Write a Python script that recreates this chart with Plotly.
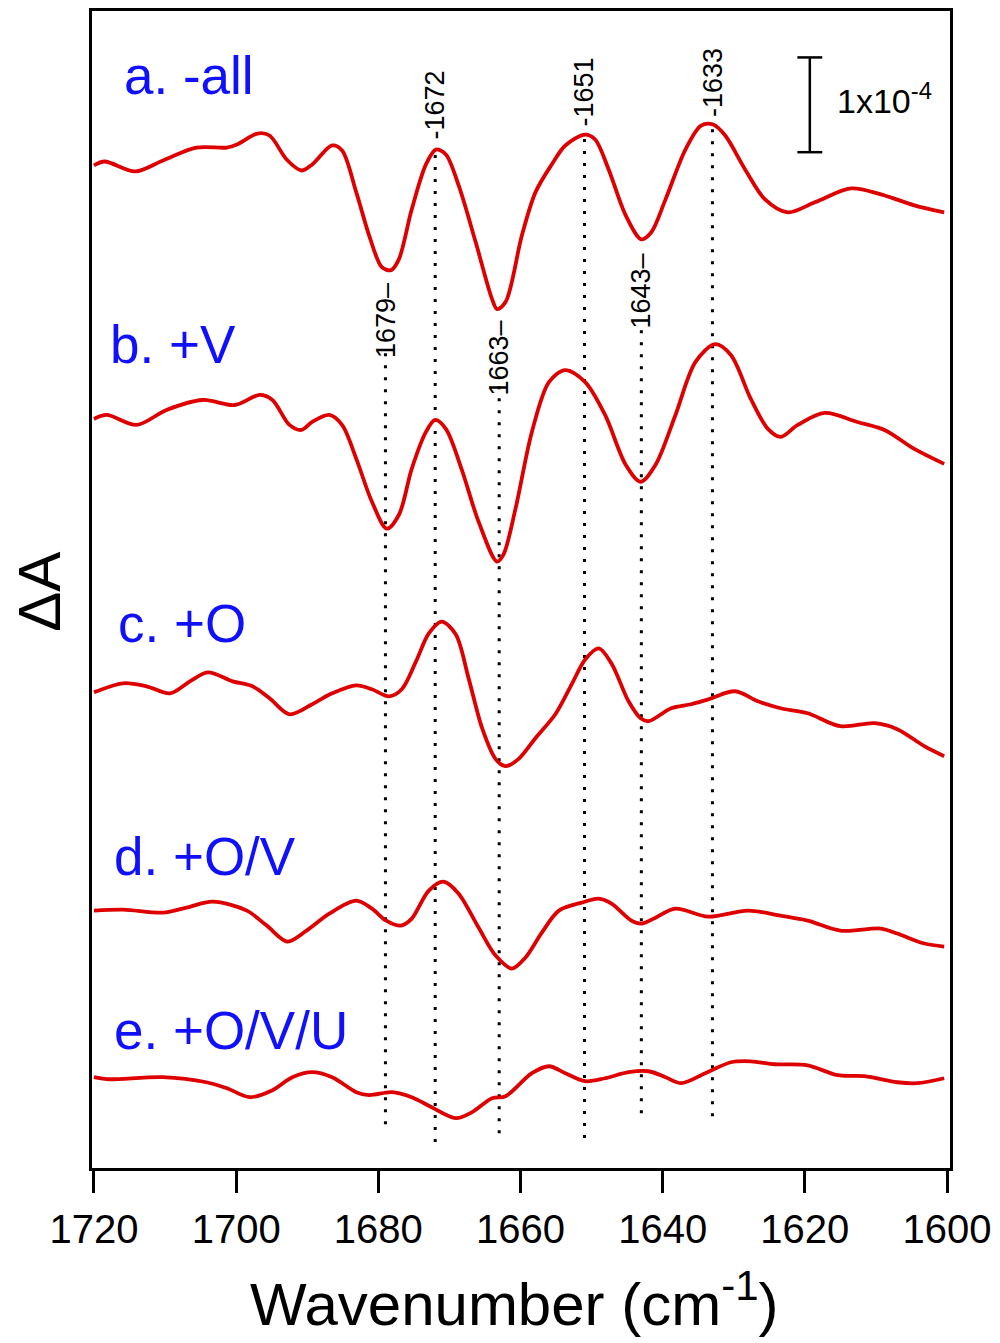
import plotly.graph_objects as go

# Wavenumber (cm-1) and ΔA (units of 1e-5) for each spectrum
wn_a = [1720.0, 1718.5, 1714.2, 1710.3, 1705.6, 1701.3, 1699.9, 1697.0, 1695.3, 1692.9, 1690.8, 1689.3, 1686.5, 1685.1, 1683.1, 1681.3, 1679.5, 1678.2, 1677.1, 1675.3, 1673.3, 1671.9, 1670.5, 1668.7, 1666.3, 1664.0, 1663.3, 1662.1, 1659.8, 1657.9, 1655.6, 1653.7, 1650.9, 1649.5, 1647.6, 1645.2, 1643.0, 1641.6, 1639.6, 1636.8, 1634.6, 1632.9, 1631.2, 1628.4, 1625.6, 1622.4, 1618.6, 1613.5, 1609.3, 1604.6, 1600.4]
dA_a = [0, 0.42, -0.63, 0.53, 1.89, 1.89, 2.21, 3.37, 3.16, 0.63, -0.53, 0.11, 2.11, 1.58, -2.84, -7.37, -10.74, -11.05, -9.89, -4.63, 0.11, 1.68, 1.16, -2.11, -8.11, -14.11, -15.16, -14.42, -7.37, -2.84, 0.11, 2.11, 3.26, 2.74, -0.42, -5.26, -7.79, -7.05, -3.58, 1.68, 4.21, 4.32, 3.16, -0.42, -3.58, -4.95, -3.89, -2.42, -3.05, -4.21, -4.95]

wn_b = [1720.0, 1718.2, 1714.0, 1709.8, 1704.7, 1700.2, 1696.7, 1694.9, 1692.5, 1690.8, 1689.3, 1686.9, 1685.1, 1683.1, 1680.9, 1678.8, 1677.1, 1675.3, 1673.3, 1672.0, 1670.5, 1668.3, 1665.9, 1663.3, 1662.4, 1660.7, 1658.4, 1656.0, 1653.7, 1650.9, 1648.1, 1645.2, 1643.1, 1641.0, 1638.2, 1635.4, 1632.6, 1630.4, 1627.6, 1625.2, 1623.4, 1621.0, 1617.2, 1612.6, 1608.8, 1604.6, 1600.4]
dA_b = [0, 0.42, -0.63, 0.95, 2.0, 1.47, 2.53, 2.0, -0.63, -1.16, -0.32, 0.42, -0.63, -4.21, -8.74, -11.58, -10.11, -5.26, -1.37, -0.11, -1.05, -5.26, -10.84, -15.05, -14.32, -9.47, -1.37, 3.89, 5.16, 3.89, 0.42, -4.84, -6.63, -4.84, 0.42, 6.0, 7.89, 6.74, 2.11, -1.05, -1.89, -0.63, 0.63, -0.32, -1.16, -3.16, -4.74]

wn_c = [1720.0, 1715.9, 1712.6, 1709.3, 1706.5, 1704.0, 1700.5, 1697.7, 1695.3, 1692.5, 1689.3, 1686.5, 1683.1, 1680.9, 1678.5, 1676.7, 1674.7, 1672.9, 1671.1, 1669.1, 1667.3, 1665.4, 1663.5, 1662.1, 1660.3, 1657.9, 1655.1, 1652.8, 1650.9, 1649.0, 1647.2, 1644.8, 1643.1, 1642.0, 1638.8, 1636.0, 1633.6, 1629.8, 1626.6, 1623.4, 1619.6, 1615.0, 1610.2, 1607.0, 1603.2, 1600.4]
dA_c = [0, 0.95, 0.63, -0.11, 1.16, 2.11, 1.16, 0.63, -0.63, -2.32, -1.26, -0.11, 0.74, 0.32, -0.42, 0.32, 3.26, 6.21, 7.47, 6.11, 1.47, -3.79, -7.05, -7.79, -7.05, -4.84, -2.32, 0.84, 3.47, 4.63, 3.05, -0.95, -2.74, -3.05, -1.68, -1.26, -0.74, 0.11, -0.95, -1.68, -2.21, -3.58, -3.26, -3.89, -5.68, -6.74]

wn_d = [1720.0, 1715.9, 1710.3, 1707.0, 1703.3, 1698.5, 1695.7, 1692.8, 1690.1, 1686.9, 1683.1, 1680.9, 1678.9, 1676.8, 1675.3, 1672.9, 1670.8, 1668.7, 1665.9, 1663.5, 1661.2, 1659.3, 1657.0, 1654.6, 1651.4, 1649.0, 1647.2, 1644.4, 1643.0, 1641.0, 1638.2, 1633.6, 1628.0, 1623.4, 1619.6, 1615.0, 1609.3, 1607.0, 1603.2, 1600.4]
dA_d = [0, 0.11, -0.21, 0.32, 0.95, 0, -1.58, -3.26, -2.11, -0.32, 1.05, 0.21, -1.05, -1.58, -0.84, 2.11, 3.05, 1.79, -1.79, -4.74, -6.11, -4.95, -2.32, 0, 0.84, 1.26, 0.74, -1.05, -1.37, -0.74, 0.21, -0.63, 0, -0.53, -1.05, -2.11, -1.89, -2.42, -3.47, -3.79]

wn_e = [1720.0, 1718.2, 1710.3, 1704.2, 1701.3, 1698.1, 1694.9, 1692.1, 1689.3, 1686.5, 1683.1, 1681.3, 1678.1, 1675.3, 1672.5, 1669.1, 1666.8, 1664.0, 1662.1, 1658.4, 1656.0, 1653.7, 1650.9, 1648.1, 1644.8, 1642.0, 1639.6, 1637.4, 1634.0, 1630.4, 1627.6, 1624.2, 1619.6, 1615.4, 1611.6, 1607.0, 1604.2, 1600.4]
dA_e = [0, -0.21, 0, -0.53, -1.16, -2.11, -1.37, 0, 0.53, 0, -1.58, -1.89, -1.58, -2.11, -3.16, -4.32, -3.68, -2.21, -2.0, 0.42, 1.16, 0.42, -0.42, -0.11, 0.53, 0.63, 0, -0.63, 0.42, 1.58, 1.68, 1.37, 1.26, 0.21, 0.11, -0.53, -0.63, -0.11]

# vertical stacking offsets (same units)
offsets = [105.8, 79.05, 50.2, 27.16, 9.58]
series_labels = ["a. -all", "b. +V", "c. +O", "d. +O/V", "e. +O/V/U"]
label_x = [1716.0, 1718.1, 1716.9, 1717.4, 1717.4]
label_y = [115.3, 86.9, 57.5, 32.9, 14.5]

# marked band positions
marker_wn = [1679, 1672, 1663, 1651, 1643, 1633]
marker_top = [86.1, 107.2, 83.5, 108.7, 88.7, 109.8]
marker_bottom = [4.63, 2.74, 3.68, 3.16, 5.79, 5.47]
marker_is_peak = [False, True, False, True, False, True]
marker_label_y = [93.5, 108.4, 89.5, 109.8, 96.6, 110.8]

xtick_vals = [1720, 1700, 1680, 1660, 1640, 1620, 1600]

# scale bar: 10 units = 1e-4
scale_x = 1619.3
scale_y0 = 107.2
scale_len = 10.0

FONT = "Liberation Sans, Arial, Helvetica, sans-serif"
RED = "rgb(222,0,0)"
BLUE = "rgb(16,16,255)"

fig = go.Figure()

# dotted marker lines
for w, yb, yt in zip(marker_wn, marker_bottom, marker_top):
    fig.add_trace(go.Scatter(x=[w, w], y=[yb, yt], mode="lines",
                             line=dict(color="black", width=3, dash="3px,9px"),
                             hoverinfo="skip", showlegend=False))

spectra = [(wn_a, dA_a), (wn_b, dA_b), (wn_c, dA_c), (wn_d, dA_d), (wn_e, dA_e)]
for (wn, dA), off in zip(spectra, offsets):
    fig.add_trace(go.Scatter(x=wn, y=[v + off for v in dA], mode="lines",
                             line=dict(color=RED, width=3.8, shape="spline", smoothing=0.9),
                             showlegend=False))

# scale bar
fig.add_trace(go.Scatter(x=[scale_x, scale_x], y=[scale_y0, scale_y0 + scale_len], mode="lines",
                         line=dict(color="black", width=2.5), showlegend=False, hoverinfo="skip"))
for yy in [scale_y0, scale_y0 + scale_len]:
    fig.add_trace(go.Scatter(x=[scale_x + 1.75, scale_x - 1.75], y=[yy, yy], mode="lines",
                             line=dict(color="black", width=2.5), showlegend=False, hoverinfo="skip"))

annotations = []
annotations.append(dict(x=scale_x - 3.5, y=scale_y0 + scale_len / 2 + 0.7, xref="x", yref="y",
                        text="1x10<sup>-4</sup>", showarrow=False, xanchor="left", yanchor="middle",
                        font=dict(family=FONT, size=34, color="black")))

for t, lx, ly in zip(series_labels, label_x, label_y):
    annotations.append(dict(x=lx, y=ly, xref="x", yref="y", text=t, showarrow=False,
                            xanchor="left", yanchor="middle",
                            font=dict(family=FONT, size=53, color=BLUE)))

for w, pk, ly in zip(marker_wn, marker_is_peak, marker_label_y):
    txt = ("-" + str(w)) if pk else (str(w) + "–")
    annotations.append(dict(x=w, y=ly, xref="x", yref="y", text=txt, showarrow=False,
                            textangle=-90, xanchor="center",
                            yanchor="bottom" if pk else "top",
                            font=dict(family=FONT, size=27, color="black"), borderpad=0))

annotations.append(dict(x=0, y=0.498, xref="paper", yref="paper", xshift=-52, text="ΔA",
                        showarrow=False, textangle=-90, xanchor="center", yanchor="middle",
                        font=dict(family=FONT, size=60, color="black")))
annotations.append(dict(x=0.492, y=0, xref="paper", yref="paper", yshift=-132,
                        text="Wavenumber (cm<sup>-1</sup>)", showarrow=False,
                        xanchor="center", yanchor="middle",
                        font=dict(family=FONT, size=60, color="black")))

fig.update_layout(
    width=1000, height=1343,
    margin=dict(l=92, r=48, t=8, b=175),
    paper_bgcolor="white", plot_bgcolor="white",
    annotations=annotations,
    xaxis=dict(range=[1720.28, 1599.58], tickvals=xtick_vals, ticks="outside", ticklen=22,
               tickwidth=2.5, tickcolor="black", showline=True, linecolor="black", linewidth=2.5,
               mirror=True, showgrid=False, zeroline=False, ticklabelstandoff=2,
               ticklabeloverflow="allow",
               tickfont=dict(family=FONT, size=40, color="black")),
    yaxis=dict(range=[0, 122.1], showticklabels=False, ticks="", showline=True, linecolor="black",
               linewidth=2.5, mirror=True, showgrid=False, zeroline=False),
)

fig.write_html("out.html", config={"displayModeBar": False},
               post_script="document.body.style.margin='0px';")
